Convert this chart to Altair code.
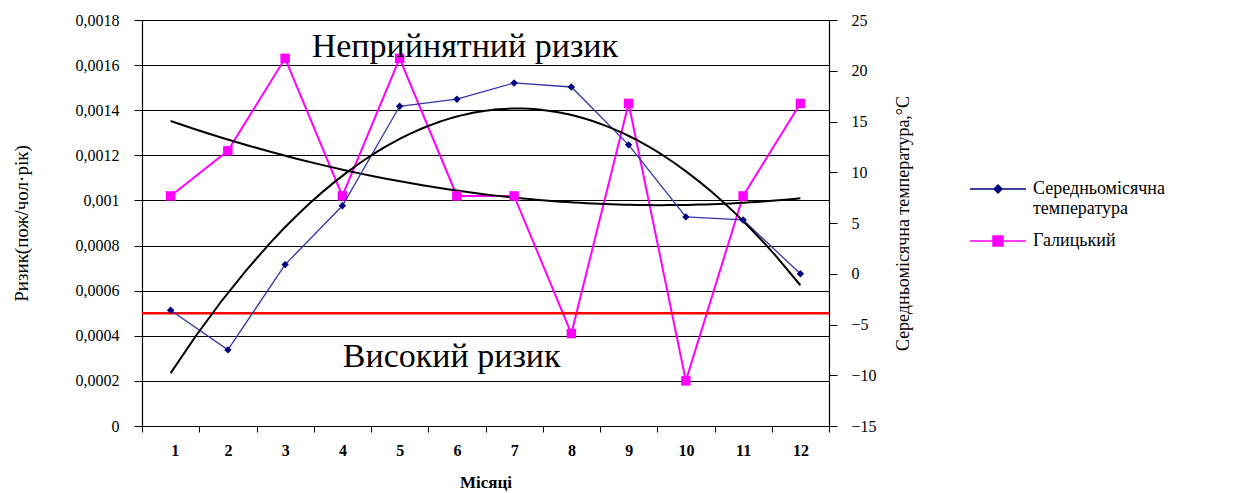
import altair as alt
import pandas as pd

# ---------------- data ----------------
months = [1, 2, 3, 4, 5, 6, 7, 8, 9, 10, 11, 12]
risk_halytskyi = [0.00102, 0.00122, 0.00163, 0.00102, 0.00163, 0.00102,
                  0.00102, 0.00041, 0.00143, 0.00020, 0.00102, 0.00143]
temperature = [-3.6, -7.5, 0.9, 6.7, 16.5, 17.2, 18.8, 18.4, 12.7, 5.6, 5.3, 0.0]
risk_threshold = [0.0005]
left_ticks = [0, 0.0002, 0.0004, 0.0006, 0.0008, 0.001, 0.0012, 0.0014, 0.0016, 0.0018]
right_ticks = [-15, -10, -5, 0, 5, 10, 15, 20, 25]
x_tick_bounds = [0.5, 1.5, 2.5, 3.5, 4.5, 5.5, 6.5, 7.5, 8.5, 9.5, 10.5, 11.5, 12.5]
annotation_text = ["Неприйнятний ризик", "Високий ризик"]
annotation_month = [6.14, 5.91]
annotation_risk = [0.00168, 0.000306]
series_names = ["Середньомісячна температура", "Галицький"]
series_colors = ["#000080", "#ff00ff"]

FONT = "'Liberation Serif', 'Times New Roman', 'DejaVu Serif', serif"
W, H = 687, 406

df = pd.DataFrame({"month": months, "risk": risk_halytskyi, "temp": temperature})
thr = pd.DataFrame({"risk": risk_threshold})
ann = pd.DataFrame({"text": annotation_text, "month": annotation_month, "risk": annotation_risk})
leg = pd.DataFrame({"series": series_names})

x_scale = alt.Scale(domain=[0.5, 12.5], nice=False, zero=False)
x_axis = alt.Axis(
    values=x_tick_bounds,
    labelExpr="datum.value < 12 ? format(datum.value + 0.5, 'd') : ''",
    labelOffset=W / 24,
    title="Місяці",
    titleFontWeight="bold",
    titleFontSize=17,
    titlePadding=16,
    labelFontWeight="bold",
    labelPadding=10,
    tickSize=6,
    grid=False,
)
X = alt.X("month:Q", scale=x_scale, axis=x_axis)

yl_scale = alt.Scale(domain=[0, 0.0018], nice=False, zero=False)
yl_axis = alt.Axis(
    values=left_ticks,
    labelExpr="replace(format(datum.value, '.4~f'), '.', ',')",
    title="Ризик(пож/чол·рік)",
    titleFontSize=19,
    titlePadding=44,
    grid=True,
    gridColor="#000000",
    gridWidth=1,
    tickSize=8,
    labelPadding=15,
)
yr_scale = alt.Scale(domain=[-15, 25], nice=False, zero=False)
yr_axis = alt.Axis(
    values=right_ticks,
    orient="right",
    title="Середньомісячна температура,°С",
    titleAngle=270,
    titleFontSize=18,
    titlePadding=36,
    grid=False,
    tickSize=8,
    labelPadding=14,
)
YL = alt.Y("risk:Q", scale=yl_scale, axis=yl_axis)
YR = alt.Y("temp:Q", scale=yr_scale, axis=yr_axis)

# -------- left (risk) group --------
pink_line = alt.Chart(df).mark_line(color="#ff00ff", strokeWidth=2).encode(x=X, y=YL)
pink_pts = alt.Chart(df).mark_point(shape="square", filled=True, color="#ff00ff", size=90, opacity=1).encode(x=X, y=YL)
pink_trend = alt.Chart(df).transform_regression(
    "month", "risk", method="poly", order=2, extent=[1, 12]
).mark_line(color="#000000", strokeWidth=2).encode(x=X, y=YL)
red_rule = alt.Chart(thr).mark_rule(color="#ff0000", strokeWidth=2.5).encode(y=YL)
texts = alt.Chart(ann).mark_text(font=FONT, fontSize=34, color="#000000", align="center", baseline="middle").encode(
    x=X, y=YL, text="text:N"
)
left_group = alt.layer(pink_line, red_rule, pink_trend, pink_pts, texts)

# -------- right (temperature) group --------
blue_line = alt.Chart(df).mark_line(color="#3333a6", strokeWidth=1.3).encode(x=X, y=YR)
blue_pts = alt.Chart(df).mark_point(shape="diamond", filled=True, color="#000080", size=55, opacity=1).encode(x=X, y=YR)
blue_trend = alt.Chart(df).transform_regression(
    "month", "temp", method="poly", order=2, extent=[1, 12]
).mark_line(color="#000000", strokeWidth=2).encode(x=X, y=YR)

path_diamond = "M-2.8,0L2.8,0M-0.4,0L0,-0.4L0.4,0L0,0.4Z"
path_square = "M-2.8,0L2.8,0M-0.5,-0.5L0.5,-0.5L0.5,0.5L-0.5,0.5Z"
legend = alt.Legend(
    title=None,
    orient="none",
    legendX=845,
    legendY=158,
    labelFont=FONT,
    labelFontSize=18,
    labelColor="#000000",
    labelOffset=24,
    labelExpr="indexof(datum.label, ' ') > 0 ? split(datum.label, ' ') : datum.label",
    symbolSize=400,
    symbolStrokeWidth=1.5,
    symbolOpacity=1,
    rowPadding=12,
    padding=0,
)
leg_layer = alt.Chart(leg).mark_point(size=400, opacity=0).encode(
    fill=alt.Fill("series:N", scale=alt.Scale(domain=series_names, range=series_colors), legend=legend),
    stroke=alt.Stroke("series:N", scale=alt.Scale(domain=series_names, range=series_colors), legend=legend),
    shape=alt.Shape("series:N", scale=alt.Scale(domain=series_names, range=[path_diamond, path_square]), legend=legend),
)
right_group = alt.layer(blue_line, blue_trend, blue_pts, leg_layer)

chart = alt.layer(left_group, right_group).resolve_scale(y="independent").properties(
    width=W,
    height=H,
    autosize=alt.AutoSizeParams(type="none"),
    padding={"left": 134, "top": 12, "right": 400, "bottom": 66},
).configure_view(stroke=None).configure_axis(
    labelFont=FONT,
    titleFont=FONT,
    labelFontSize=16,
    titleFontSize=16,
    titleFontWeight="normal",
    labelColor="#000000",
    titleColor="#000000",
    domainColor="#000000",
    tickColor="#000000",
    domainWidth=1.2,
)

chart.save("out.html", embed_options={"renderer": "svg", "actions": False})
